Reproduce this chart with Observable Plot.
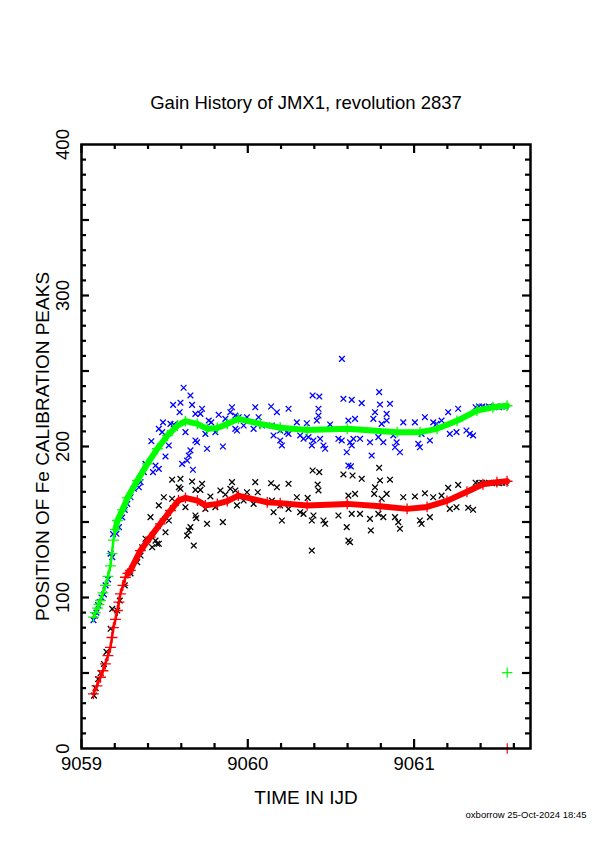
<!DOCTYPE html>
<html><head><meta charset="utf-8">
<script src="https://cdn.jsdelivr.net/npm/d3@7"></script>
<script src="https://cdn.jsdelivr.net/npm/@observablehq/plot@0.6"></script>
<style>body{margin:0;background:#fff}</style>
</head><body><div id="chart"></div>
<script>
// ---- data (IJD time, peak position) ----
const blueT = [9059.072,9059.08,9059.09,9059.10,9059.11,9059.12,9059.135,9059.145,9059.16,9059.175,9059.185,9059.19,9059.21,9059.225,9059.245,9059.26,9059.275,9059.295,9059.315,9059.345,9059.355,9059.375,9059.385,9059.42,9059.43,9059.445,9059.465,9059.465,9059.485,9059.49,9059.505,9059.525,9059.535,9059.551,9059.555,9059.59,9059.595,9059.605,9059.614,9059.625,9059.635,9059.645,9059.655,9059.655,9059.665,9059.67,9059.685,9059.685,9059.695,9059.715,9059.725,9059.745,9059.755,9059.765,9059.78,9059.805,9059.825,9059.85,9059.865,9059.895,9059.905,9059.925,9059.925,9059.935,9059.945,9059.975,9059.995,9060.035,9060.045,9060.065,9060.085,9060.14,9060.145,9060.155,9060.175,9060.195,9060.195,9060.205,9060.235,9060.245,9060.245,9060.295,9060.315,9060.335,9060.355,9060.365,9060.385,9060.39,9060.395,9060.415,9060.425,9060.425,9060.43,9060.435,9060.455,9060.465,9060.495,9060.545,9060.565,9060.566,9060.575,9060.595,9060.605,9060.605,9060.615,9060.62,9060.625,9060.625,9060.635,9060.645,9060.675,9060.685,9060.735,9060.745,9060.755,9060.765,9060.785,9060.79,9060.795,9060.805,9060.815,9060.835,9060.835,9060.855,9060.875,9060.885,9060.895,9060.915,9060.935,9061.005,9061.025,9061.035,9061.045,9061.065,9061.095,9061.115,9061.135,9061.165,9061.205,9061.215,9061.255,9061.265,9061.315,9061.335,9061.355,9061.37,9061.39,9061.41,9061.43,9061.45,9061.47,9061.49,9061.51,9061.53,9061.55];
const blueV = [85,88,90,95,97,100,102,108,112,129,126.7,142,142.2,146.6,153,158,162,166.4,172,173,176.4,183,188.5,203.5,183,187.4,185.2,211.7,209.5,216,193.4,200.7,215,227.6,214.6,222.7,229,188.5,238.9,209.5,190.7,194,197.4,233.8,227.6,184.6,221.6,204,202.8,221.6,225,208.4,198.5,217.2,216,209.5,221,200,218.3,222.7,226,220.5,211.7,210.6,219.4,213.9,219.4,211.7,226,219.4,213.9,226.5,213.9,207.3,222.7,210.6,204,200.7,209.5,225,208.4,216,207.3,205.1,215.4,206.2,200.7,233.8,204,217.2,225,220.5,233.1,205.1,200.7,198.5,214.6,205.1,204,258,231.6,196.2,217.2,187.4,202.8,186.8,230.9,200.7,205.1,218.3,205.1,228.7,202.8,194,218.3,222.7,206.2,236,227.8,215,202.8,221.6,217.2,228.3,207.3,199.5,202.8,196.2,216,216,201.8,199.5,208.4,219.4,204,216,215,217.2,222.7,208.4,209.5,225,210.6,208.4,207.3,226,226.5,226.5,226,226.5,226,226.5,226,226.5,226.5];

const blackT = [9059.075,9059.085,9059.10,9059.115,9059.135,9059.15,9059.175,9059.185,9059.215,9059.23,9059.26,9059.295,9059.335,9059.355,9059.365,9059.385,9059.415,9059.425,9059.445,9059.455,9059.465,9059.465,9059.495,9059.505,9059.525,9059.545,9059.545,9059.585,9059.595,9059.595,9059.625,9059.635,9059.645,9059.655,9059.665,9059.675,9059.685,9059.685,9059.69,9059.715,9059.725,9059.745,9059.755,9059.775,9059.805,9059.835,9059.85,9059.865,9059.895,9059.905,9059.925,9059.935,9059.975,9059.995,9060.035,9060.045,9060.06,9060.14,9060.145,9060.155,9060.175,9060.195,9060.205,9060.245,9060.245,9060.295,9060.315,9060.335,9060.36,9060.385,9060.385,9060.39,9060.395,9060.42,9060.425,9060.43,9060.455,9060.465,9060.545,9060.575,9060.595,9060.605,9060.605,9060.615,9060.625,9060.63,9060.645,9060.675,9060.685,9060.735,9060.74,9060.76,9060.765,9060.785,9060.79,9060.795,9060.805,9060.815,9060.835,9060.855,9060.885,9060.905,9060.915,9060.935,9061.005,9061.035,9061.045,9061.065,9061.095,9061.115,9061.165,9061.205,9061.215,9061.255,9061.265,9061.325,9061.355,9061.37,9061.39,9061.41,9061.43,9061.45,9061.47,9061.49,9061.51,9061.53,9061.55];
const blackV = [35,40,46,50,56,64,79.3,92.5,91.4,98,108,116,123.4,127.8,133.3,138.9,153.2,133.3,137.7,135.6,135.6,161,166.4,143.2,151,165.4,178,173,178.6,172,159.8,141,144.4,146.6,176.8,134.4,171.3,154.3,152.5,171.3,175.3,158.7,148.8,166.9,159.8,170.9,149.9,168.2,172,176.4,170.9,161,164.2,169.7,162,176.4,169.7,175.7,164.2,156.5,173,160.9,151,175.3,158.7,166.4,156.5,155.4,166,151,131.1,184.1,154.3,174.8,170.9,183,151,148.8,154.3,181.5,146.6,167.5,137.7,136.6,155.4,180.8,168.6,155.4,178.6,152.1,144.4,168.6,173,155.4,185.9,177.5,165.4,153.2,168.6,178,153.2,149.9,145.5,166.4,166.9,151,148.8,169,153.2,166.4,167.5,172.6,158.7,159.8,174.6,159.4,158.1,176,175.7,176,175.7,176,175.7,176,175.7,176,176];

const greenT = [9059.072,9059.084,9059.096,9059.105,9059.114,9059.129,9059.144,9059.159,9059.174,9059.183,9059.192,9059.204,9059.216,9059.246,9059.276,9059.336,9059.396,9059.456,9059.517,9059.577,9059.625,9059.697,9059.757,9059.817,9059.877,9059.943,9060.075,9060.195,9060.357,9060.598,9060.898,9061.036,9061.138,9061.258,9061.378,9061.474,9061.559];
const greenV = [87,90,93,95.5,98,103,108,114,121,129,138,145,151,158,166,177.5,188.5,198.5,207.3,213.9,216.8,215,211.7,212.3,215,218.3,215,212.4,211,211.7,209.5,209.5,211.7,217,223.8,226,227];

const redT = [9059.072,9059.093,9059.114,9059.129,9059.144,9059.159,9059.174,9059.183,9059.192,9059.204,9059.216,9059.225,9059.234,9059.249,9059.264,9059.279,9059.294,9059.354,9059.414,9059.474,9059.535,9059.583,9059.625,9059.697,9059.745,9059.817,9059.877,9059.943,9060.117,9060.195,9060.357,9060.598,9060.796,9060.958,9061.078,9061.198,9061.318,9061.414,9061.498,9061.559];
const redV = [36.2,41.5,47.2,51.5,56,61.5,67,73.5,80,85.5,91.4,97,102.4,108,113.4,116,118,131,140,148.8,157.6,164.2,166,164.2,161,162,163.8,167.5,163,162.5,161,162,160.5,158.7,160,164,170,175,176.4,177];

const extraGreenT = [9061.56];
const extraGreenV = [50.3];
const extraRedT = [9061.56];
const extraRedV = [0];

const xMajor = [9059, 9060, 9061];
const xMinor = [9059.2,9059.4,9059.6,9059.8,9060.2,9060.4,9060.6,9060.8,9061.2,9061.4,9061.6];
const yMajor = [50,100,150,200,250,300,350];
const yMinor = [10,20,30,40,60,70,80,90,110,120,130,140,160,170,180,190,210,220,230,240,260,270,280,290,310,320,330,340,360,370,380,390];
const yLabels = [0,100,200,300,400];

const zip = (T, V) => T.map((t, i) => ({t, v: V[i]}));
const blue = zip(blueT, blueV), black = zip(blackT, blackV);
const green = zip(greenT, greenV), red = zip(redT, redV);
const eg = zip(extraGreenT, extraGreenV), er = zip(extraRedT, extraRedV);

const W = 595, H = 842, mL = 81, mR = 65, mT = 144, mB = 94;
const iH = H - mT - mB, iW = W - mL - mR;
const font = "'Liberation Sans', Arial, Helvetica, sans-serif";

const chart = Plot.plot({
  width: W, height: H,
  marginLeft: mL, marginRight: mR, marginTop: mT, marginBottom: mB,
  style: {fontFamily: font, background: "white", color: "black", overflow: "visible"},
  x: {domain: [9059, 9061.7], axis: null},
  y: {domain: [0, 400], axis: null},
  marks: [
    Plot.dot(blue, {x: "t", y: "v", symbol: "times", r: 2.7, stroke: "#0000ff", strokeWidth: 1.3}),
    Plot.dot(black, {x: "t", y: "v", symbol: "times", r: 2.7, stroke: "#000000", strokeWidth: 1.3}),
    Plot.line(green, {x: "t", y: "v", filter: d => d.t <= 9059.22, stroke: "#00ff00", strokeWidth: 2.5}),
    Plot.line(green, {x: "t", y: "v", filter: d => d.t >= 9059.2, stroke: "#00ff00", strokeWidth: 6}),
    Plot.dot(green, {x: "t", y: "v", symbol: "plus", r: 3.6, stroke: "#00ff00", strokeWidth: 1.3}),
    Plot.line(red, {x: "t", y: "v", filter: d => d.t <= 9059.28, stroke: "#ff0000", strokeWidth: 2.5}),
    Plot.line(red, {x: "t", y: "v", filter: d => d.t >= 9059.27, stroke: "#ff0000", strokeWidth: 6}),
    Plot.dot(red, {x: "t", y: "v", symbol: "plus", r: 3.6, stroke: "#ff0000", strokeWidth: 1.3}),
    Plot.dot(eg, {x: "t", y: "v", symbol: "plus", r: 3.4, stroke: "#00ff00", strokeWidth: 1.2}),
    Plot.dot(er, {x: "t", y: "v", symbol: "plus", r: 3.4, stroke: "#ff0000", strokeWidth: 1.2}),
    Plot.frame({stroke: "black", strokeWidth: 2.5}),
    // inward ticks
    Plot.tickX(xMinor, {x: d => d, insetTop: iH - 5, stroke: "black", strokeWidth: 2.2}),
    Plot.tickX(xMinor, {x: d => d, insetBottom: iH - 5, stroke: "black", strokeWidth: 2.2}),
    Plot.tickX(xMajor, {x: d => d, insetTop: iH - 9, stroke: "black", strokeWidth: 2.2}),
    Plot.tickX(xMajor, {x: d => d, insetBottom: iH - 9, stroke: "black", strokeWidth: 2.2}),
    Plot.tickY(yMinor, {y: d => d, insetRight: iW - 5, stroke: "black", strokeWidth: 2.2}),
    Plot.tickY(yMinor, {y: d => d, insetLeft: iW - 5, stroke: "black", strokeWidth: 2.2}),
    Plot.tickY(yMajor, {y: d => d, insetRight: iW - 8, stroke: "black", strokeWidth: 2.2}),
    Plot.tickY(yMajor, {y: d => d, insetLeft: iW - 8, stroke: "black", strokeWidth: 2.2}),
    // tick labels
    Plot.text(xMajor, {x: d => d, frameAnchor: "bottom", dy: 21, textAnchor: "middle", text: d => String(d), fontSize: 18.5, fill: "black"}),
    Plot.text(yLabels, {y: d => d, frameAnchor: "left", dx: -18, rotate: -90, textAnchor: "middle", text: d => String(d), fontSize: 18.5, fill: "black"}),
    // titles
    Plot.text(["Gain History of JMX1, revolution 2837"], {frameAnchor: "top", dy: -49, textAnchor: "middle", text: d => d, fontSize: 18.5, fill: "black"}),
    Plot.text(["TIME IN IJD"], {frameAnchor: "bottom", dy: 55, textAnchor: "middle", text: d => d, fontSize: 19, fill: "black"}),
    Plot.text(["POSITION OF Fe CALIBRATION PEAKS"], {frameAnchor: "left", dx: -39, rotate: -90, textAnchor: "middle", text: d => d, fontSize: 19, fill: "black"}),
    Plot.text(["oxborrow 25-Oct-2024 18:45"], {frameAnchor: "bottom-right", dx: 56, dy: 69, textAnchor: "end", text: d => d, fontSize: 9.5, fill: "black"})
  ]
});
document.getElementById("chart").appendChild(chart);
</script>
</body></html>
